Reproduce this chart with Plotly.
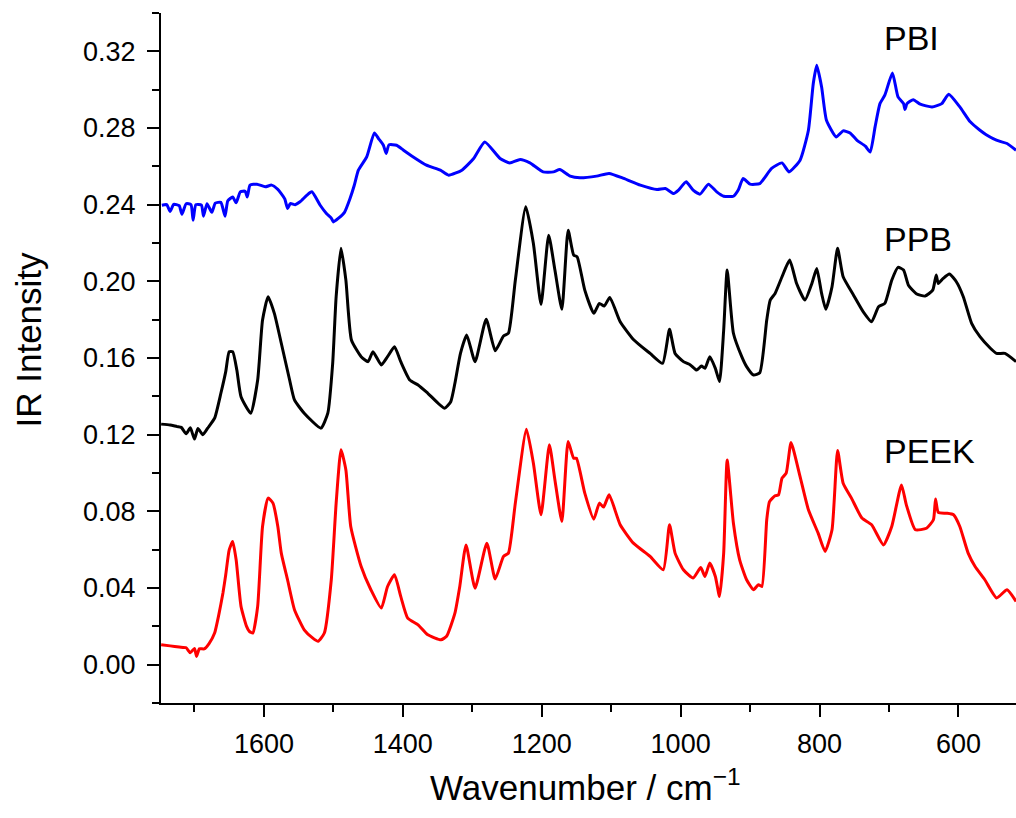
import plotly.graph_objects as go

# ---------------- data ----------------
peek_wn = [1748, 1735, 1722, 1712, 1706, 1700, 1697, 1693, 1686, 1679, 1671, 1665, 1659, 1655, 1650,
           1645, 1640, 1633, 1625, 1621, 1616, 1609, 1602, 1594, 1587, 1580, 1575, 1566, 1556, 1542,
           1530, 1522, 1513, 1503, 1496, 1489, 1482, 1475, 1460, 1446, 1431, 1422, 1412, 1403, 1393,
           1378, 1364, 1345, 1337, 1325, 1318, 1309, 1296, 1279, 1267, 1255, 1248, 1238, 1222, 1212,
           1201, 1189, 1181, 1171, 1162, 1154, 1150, 1138, 1125, 1117, 1111, 1103, 1087, 1068, 1044,
           1025, 1016, 1008, 996, 982, 971, 965, 958, 950, 944, 938, 933, 924, 915, 905,
           895, 888, 883, 876, 872, 864, 859, 854, 848, 841, 828, 816, 802, 792, 782,
           774, 766, 754, 739, 725, 708, 696, 682, 675, 662, 646, 636, 633, 629, 617,
           607, 598, 586, 576, 562, 545, 530, 517]
peek_ir = [0.0104, 0.0098, 0.0092, 0.0088, 0.0062, 0.0085, 0.0043, 0.0083, 0.0082, 0.0110, 0.0165, 0.0260, 0.0374, 0.0469, 0.0599,
           0.0643, 0.0547, 0.0304, 0.0200, 0.0174, 0.0165, 0.0304, 0.0721, 0.0869, 0.0843, 0.0721, 0.0582, 0.0443, 0.0287, 0.0182,
           0.0140, 0.0122, 0.0165, 0.0443, 0.0843, 0.1121, 0.1016, 0.0721, 0.0512, 0.0391, 0.0295, 0.0408, 0.0469, 0.0356, 0.0243,
           0.0208, 0.0156, 0.0130, 0.0148, 0.0269, 0.0408, 0.0625, 0.0399, 0.0634, 0.0447, 0.0565, 0.0582, 0.0843, 0.1228, 0.1051,
           0.0782, 0.1147, 0.0964, 0.0747, 0.1164, 0.1077, 0.1077, 0.0895, 0.0759, 0.0843, 0.0822, 0.0886, 0.0730, 0.0634, 0.0565,
           0.0495, 0.0730, 0.0582, 0.0495, 0.0452, 0.0507, 0.0460, 0.0530, 0.0460, 0.0356, 0.0582, 0.1068, 0.0738, 0.0547, 0.0443,
           0.0391, 0.0417, 0.0408, 0.0756, 0.0851, 0.0881, 0.0886, 0.0973, 0.0999, 0.1159, 0.0981, 0.0808, 0.0686, 0.0591, 0.0704,
           0.1117, 0.0947, 0.0869, 0.0765, 0.0730, 0.0625, 0.0721, 0.0938, 0.0834, 0.0704, 0.0712, 0.0756, 0.0864, 0.0794, 0.0790,
           0.0782, 0.0721, 0.0582, 0.0512, 0.0443, 0.0348, 0.0391, 0.0330]

ppb_wn = [1748, 1735, 1725, 1719, 1712, 1706, 1700, 1695, 1688, 1681, 1671, 1662, 1655, 1650, 1645,
          1639, 1633, 1619, 1609, 1602, 1594, 1585, 1575, 1563, 1556, 1542, 1518, 1508, 1501, 1496,
          1489, 1482, 1474, 1460, 1450, 1443, 1431, 1422, 1412, 1403, 1390, 1378, 1364, 1340, 1331,
          1325, 1317, 1308, 1296, 1280, 1267, 1255, 1248, 1238, 1223, 1212, 1201, 1190, 1181, 1171,
          1162, 1154, 1149, 1138, 1125, 1117, 1110, 1102, 1087, 1068, 1044, 1026, 1016, 1008, 996,
          986, 977, 970, 965, 958, 950, 944, 938, 933, 924, 912, 905, 895, 886, 876,
          871, 864, 854, 843, 833, 821, 811, 804, 797, 791, 782, 774, 766, 751, 737,
          725, 715, 706, 696, 687, 679, 672, 660, 648, 637, 632, 629, 622, 613, 603,
          593, 581, 569, 554, 545, 533, 517]
ppb_ir = [0.1255, 0.1250, 0.1242, 0.1238, 0.1205, 0.1236, 0.1177, 0.1232, 0.1200, 0.1234, 0.1286, 0.1416, 0.1529, 0.1633, 0.1633,
          0.1537, 0.1398, 0.1312, 0.1485, 0.1798, 0.1920, 0.1833, 0.1677, 0.1485, 0.1381, 0.1312, 0.1234, 0.1312, 0.1572, 0.1920,
          0.2172, 0.2006, 0.1694, 0.1607, 0.1581, 0.1633, 0.1564, 0.1607, 0.1659, 0.1581, 0.1485, 0.1459, 0.1416, 0.1338, 0.1372,
          0.1468, 0.1624, 0.1720, 0.1581, 0.1802, 0.1638, 0.1715, 0.1729, 0.2006, 0.2389, 0.2198, 0.1879, 0.2241, 0.2059, 0.1854,
          0.2267, 0.2137, 0.2128, 0.1954, 0.1833, 0.1885, 0.1871, 0.1916, 0.1789, 0.1697, 0.1624, 0.1572, 0.1750, 0.1624, 0.1581,
          0.1564, 0.1537, 0.1558, 0.1546, 0.1607, 0.1546, 0.1477, 0.1746, 0.2059, 0.1729, 0.1607, 0.1555, 0.1511, 0.1523, 0.1798,
          0.1902, 0.1937, 0.2024, 0.2111, 0.1989, 0.1902, 0.1989, 0.2067, 0.1937, 0.1854, 0.1972, 0.2172, 0.2024, 0.1928, 0.1841,
          0.1789, 0.1867, 0.1885, 0.2006, 0.2073, 0.2059, 0.1980, 0.1934, 0.1923, 0.1954, 0.2033, 0.1989, 0.2015, 0.2038, 0.1998,
          0.1920, 0.1781, 0.1711, 0.1651, 0.1624, 0.1624, 0.1581]

pbi_wn = [1747, 1740, 1735, 1730, 1722, 1718, 1712, 1705, 1702, 1698, 1690, 1687, 1682, 1675, 1670,
          1662, 1656, 1652, 1645, 1640, 1634, 1627, 1624, 1620, 1610, 1598, 1589, 1580, 1577, 1570,
          1566, 1562, 1555, 1548, 1538, 1531, 1519, 1510, 1503, 1500, 1493, 1484, 1476, 1470, 1464,
          1452, 1441, 1435, 1428, 1424, 1420, 1409, 1399, 1385, 1366, 1346, 1334, 1315, 1298, 1282,
          1260, 1246, 1231, 1217, 1198, 1183, 1174, 1159, 1145, 1121, 1103, 1082, 1058, 1034, 1022,
          1010, 1003, 992, 982, 972, 960, 948, 938, 924, 917, 910, 900, 886, 869, 854,
          844, 828, 816, 809, 804, 797, 790, 776, 766, 756, 746, 734, 727, 720, 713,
          706, 695, 687, 679, 677, 674, 665, 655, 638, 624, 614, 598, 583, 569, 560,
          550, 540, 530, 517]
pbi_ir = [0.2397, 0.2400, 0.2365, 0.2402, 0.2395, 0.2350, 0.2405, 0.2400, 0.2319, 0.2400, 0.2398, 0.2340, 0.2405, 0.2360, 0.2408,
          0.2412, 0.2340, 0.2420, 0.2440, 0.2410, 0.2467, 0.2470, 0.2440, 0.2502, 0.2507, 0.2493, 0.2502, 0.2480, 0.2467, 0.2430,
          0.2380, 0.2406, 0.2400, 0.2415, 0.2450, 0.2467, 0.2397, 0.2354, 0.2330, 0.2310, 0.2328, 0.2360, 0.2432, 0.2500, 0.2580,
          0.2649, 0.2774, 0.2745, 0.2710, 0.2667, 0.2712, 0.2710, 0.2684, 0.2649, 0.2606, 0.2580, 0.2554, 0.2580, 0.2641, 0.2727,
          0.2641, 0.2618, 0.2636, 0.2618, 0.2571, 0.2571, 0.2583, 0.2549, 0.2540, 0.2549, 0.2563, 0.2537, 0.2502, 0.2479, 0.2484,
          0.2458, 0.2476, 0.2519, 0.2476, 0.2455, 0.2507, 0.2467, 0.2444, 0.2444, 0.2476, 0.2537, 0.2507, 0.2510, 0.2589, 0.2618,
          0.2571, 0.2632, 0.2788, 0.3032, 0.3127, 0.3014, 0.2840, 0.2753, 0.2785, 0.2774, 0.2736, 0.2705, 0.2675, 0.2806, 0.2927,
          0.2971, 0.3087, 0.2962, 0.2927, 0.2896, 0.2927, 0.2948, 0.2924, 0.2910, 0.2927, 0.2976, 0.2910, 0.2832, 0.2788, 0.2765,
          0.2745, 0.2730, 0.2719, 0.2684]

series_names = ["PEEK", "PPB", "PBI"]
series_colors = ["#ff0000", "#000000", "#0000ff"]

x_title = "Wavenumber / cm<sup>−1</sup>"
y_title = "IR Intensity"

FONT = "Liberation Sans, Arial, sans-serif"

fig = go.Figure()
for name, wn, ir, col in zip(series_names,
                             [peek_wn, ppb_wn, pbi_wn],
                             [peek_ir, ppb_ir, pbi_ir],
                             series_colors):
    fig.add_trace(go.Scatter(x=wn, y=ir, mode="lines", name=name,
                             line=dict(color=col, width=3, shape="spline", smoothing=0.5),
                             showlegend=False))

# curve labels
label_pos = {"PBI": (710, 0.3272), "PPB": (710, 0.2222), "PEEK": (710, 0.1116)}
for name in series_names:
    xx, yy = label_pos[name]
    fig.add_annotation(x=xx, y=yy, xref="x", yref="y", text=name, showarrow=False,
                       xanchor="left", yanchor="middle",
                       font=dict(family=FONT, size=34, color="black"))

# axis titles
fig.add_annotation(x=0.497, y=-0.119, xref="paper", yref="paper", text=x_title,
                   showarrow=False, xanchor="center", yanchor="middle",
                   font=dict(family=FONT, size=35, color="black"))
fig.add_annotation(x=-0.155, y=0.5275, xref="paper", yref="paper", text=y_title,
                   showarrow=False, xanchor="center", yanchor="middle", textangle=-90,
                   font=dict(family=FONT, size=35, color="black"))

axis_common = dict(showline=True, linecolor="black", linewidth=2, mirror=False,
                   ticks="outside", ticklen=12, tickwidth=2, tickcolor="black",
                   showgrid=False, zeroline=False,
                   tickfont=dict(family=FONT, size=27, color="black"))

fig.update_layout(
    width=1016, height=818,
    margin=dict(l=161, r=0, t=13, b=115, pad=0),
    paper_bgcolor="white", plot_bgcolor="white",
    xaxis=dict(range=[1748.2, 517.1], tick0=0, dtick=200,
               minor=dict(dtick=100, ticks="outside", ticklen=7, tickwidth=2, tickcolor="black"),
               ticklabelstandoff=4, **axis_common),
    yaxis=dict(range=[-0.02, 0.34], tick0=0, dtick=0.04, tickformat=".2f",
               minor=dict(dtick=0.02, ticks="outside", ticklen=7, tickwidth=2, tickcolor="black"),
               ticklabelstandoff=6, **axis_common),
)

fig.write_html("out.html")
